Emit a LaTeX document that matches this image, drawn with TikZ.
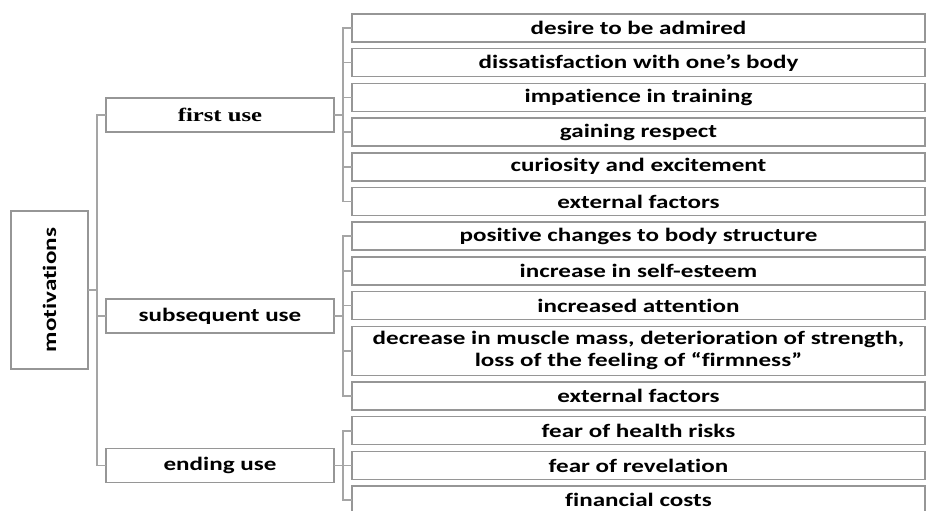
\documentclass[tikz,border=0pt]{standalone}
\usepackage{fontspec}
\setmainfont{Carlito}[FakeStretch=1.32, Ligatures=NoCommon]
\newfontfamily\serifbold{Liberation Serif}[FakeStretch=1.3]
\usepackage{tikz}
\usetikzlibrary{positioning,calc}
\definecolor{boxgray}{RGB}{150,150,150}
\definecolor{linegray}{RGB}{165,165,165}

\begin{document}
\begin{tikzpicture}[x=1pt, y=1pt,
  every node/.style={draw=boxgray, line width=1.5pt, fill=white, inner sep=0pt,
    outer sep=0pt, font=\bfseries\fontsize{19}{22}\selectfont},
  item/.style={minimum width=573pt, minimum height=28pt},
  stage/.style={minimum width=228pt, minimum height=34pt},
  link/.style={draw=linegray, line width=1.6pt}]
  \useasboundingbox (0,0) rectangle (929,-511);
  \node [item] (r1) at (638.5,-28) {desire to be admired};
  \node [item, below=6.7pt of r1] (r2) {dissatisfaction with one’s body};
  \node [item, below=6.7pt of r2] (r3) {impatience in training};
  \node [item, below=6.7pt of r3] (r4) {gaining respect};
  \node [item, below=6.7pt of r4] (r5) {curiosity and excitement};
  \node [item, below=6.7pt of r5] (r6) {external factors};
  \node [item, below=6.7pt of r6] (r7) {positive changes to body structure};
  \node [item, below=6.7pt of r7] (r8) {increase in self-esteem};
  \node [item, below=6.7pt of r8] (r9) {increased attention};
  \node [item, minimum height=49pt, align=center, below=6.7pt of r9] (r10)
    {decrease in muscle mass, deterioration of strength,\\ loss of the feeling of “firmness”};
  \node [item, below=6.7pt of r10] (r11) {external factors};
  \node [item, below=6.7pt of r11] (r12) {fear of health risks};
  \node [item, below=6.7pt of r12] (r13) {fear of revelation};
  \node [item, below=6.7pt of r13] (r14) {financial costs};

  \coordinate (m1) at ($(r1.west)!.5!(r6.west)$);
  \coordinate (m2) at ($(r7.west)!.5!(r11.west)$);
  \coordinate (m3) at ($(r12.west)!.5!(r14.west)$);
  \node [stage, left=18pt of m1] (first) {\serifbold first use};
  \node [stage, left=18pt of m2] (subsequent) {subsequent use};
  \node [stage, left=18pt of m3] (ending) {ending use};

  \coordinate (m0) at ($(first.west)!.5!(ending.west)$);
  \node [rotate=90, anchor=south, minimum width=158pt, minimum height=77pt]
    (mot) at ([xshift=-18pt]m0) {motivations};

  \draw [link] (mot.south) -- ++(9,0) |- (first.west);
  \draw [link] (mot.south) -- ++(9,0) |- (subsequent.west);
  \draw [link] (mot.south) -- ++(9,0) |- (ending.west);

  \draw [link] (first.east) -- ++(9,0) |- (r1.west);
  \draw [link] (first.east) -- ++(9,0) |- (r2.west);
  \draw [link] (first.east) -- ++(9,0) |- (r3.west);
  \draw [link] (first.east) -- ++(9,0) |- (r4.west);
  \draw [link] (first.east) -- ++(9,0) |- (r5.west);
  \draw [link] (first.east) -- ++(9,0) |- (r6.west);

  \draw [link] (subsequent.east) -- ++(9,0) |- (r7.west);
  \draw [link] (subsequent.east) -- ++(9,0) |- (r8.west);
  \draw [link] (subsequent.east) -- ++(9,0) |- (r9.west);
  \draw [link] (subsequent.east) -- ++(9,0) |- (r10.west);
  \draw [link] (subsequent.east) -- ++(9,0) |- (r11.west);

  \draw [link] (ending.east) -- ++(9,0) |- (r12.west);
  \draw [link] (ending.east) -- ++(9,0) |- (r13.west);
  \draw [link] (ending.east) -- ++(9,0) |- (r14.west);
\end{tikzpicture}
\end{document}
